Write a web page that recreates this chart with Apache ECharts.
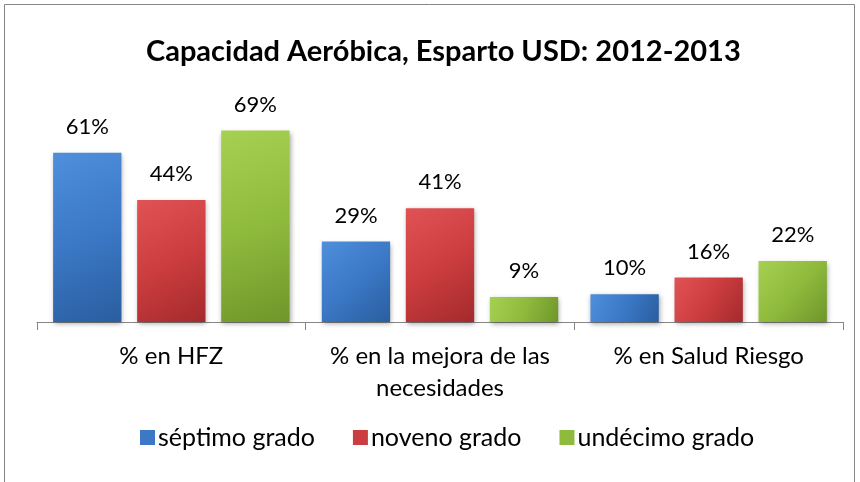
<!DOCTYPE html>
<html>
<head>
<meta charset="utf-8">
<script src="https://cdn.jsdelivr.net/npm/echarts@6/dist/echarts.min.js"></script>
<style>
  html, body { margin: 0; padding: 0; background: #fff; }
  #chart { width: 860px; height: 482px; }
</style>
</head>
<body>
<div id="chart"></div>
<script>
const categories = ['% en HFZ', '% en la mejora de las\nnecesidades', '% en Salud Riesgo'];
const seriesNames = ['séptimo grado', 'noveno grado', 'undécimo grado'];
const septimo = [61, 29, 10];
const noveno = [44, 41, 16];
const undecimo = [69, 9, 22];

const fontFam = 'Lato, "Open Sans", sans-serif';

// bevelled look: light edge -> body -> dark edge
function grad(light, mid, dark) {
  return new echarts.graphic.LinearGradient(0, 0, 1, 1, [
    { offset: 0, color: light },
    { offset: 0.5, color: mid },
    { offset: 1, color: dark }
  ]);
}
const colors = [
  grad('#4f8fdb', '#3b78c6', '#2a5e9f'),
  grad('#e05355', '#cc3d3f', '#a42a2c'),
  grad('#a6d052', '#8fbb3d', '#6e962a')
];
const legendColors = ['#3b78c6', '#cc3d3f', '#8fbb3d'];

const data = [septimo, noveno, undecimo];

let myChart = echarts.init(document.getElementById('chart'));
myChart.setOption({
  animation: false,
  title: {
    text: 'Capacidad Aeróbica, Esparto USD: 2012-2013',
    left: 141,
    top: 32,
    textStyle: { fontFamily: fontFam, fontSize: 29, fontWeight: 'bold', color: '#000' }
  },
  legend: {
    bottom: 27,
    left: 135,
    itemWidth: 15,
    itemHeight: 15,
    itemGap: 38,
    icon: 'rect',
    textStyle: { fontFamily: fontFam, fontSize: 25, color: '#000', padding: [0, 0, 0, -2] },
    data: seriesNames.map((n, i) => ({ name: n, itemStyle: { color: legendColors[i] } }))
  },
  grid: { left: 37, right: 17, top: 100, bottom: 160 },
  xAxis: {
    type: 'category',
    data: categories,
    axisLine: { lineStyle: { color: '#868686', width: 1 } },
    axisTick: { show: true, length: 8, lineStyle: { color: '#868686' } },
    axisLabel: {
      fontFamily: fontFam, fontSize: 24, color: '#000', margin: 18,
      lineHeight: 32, interval: 0
    }
  },
  yAxis: {
    type: 'value',
    min: 0,
    max: 80,
    show: false,
    splitLine: { show: false }
  },
  graphic: [{
    type: 'rect',
    shape: { x: 4.5, y: 4.5, width: 850, height: 490 },
    style: { fill: 'none', stroke: '#868686', lineWidth: 1 },
    silent: true
  }],
  series: seriesNames.map((name, i) => ({
    name: name,
    type: 'bar',
    data: data[i],
    barGap: '23%',
    barCategoryGap: '12%',
    itemStyle: {
      color: colors[i],
      shadowColor: 'rgba(0,0,0,0.35)',
      shadowBlur: 5,
      shadowOffsetX: 1,
      shadowOffsetY: 2
    },
    label: {
      show: true,
      position: 'top',
      distance: 15,
      formatter: '{c}%',
      fontFamily: fontFam,
      fontSize: 22,
      color: '#000'
    }
  }))
});
</script>
</body>
</html>
